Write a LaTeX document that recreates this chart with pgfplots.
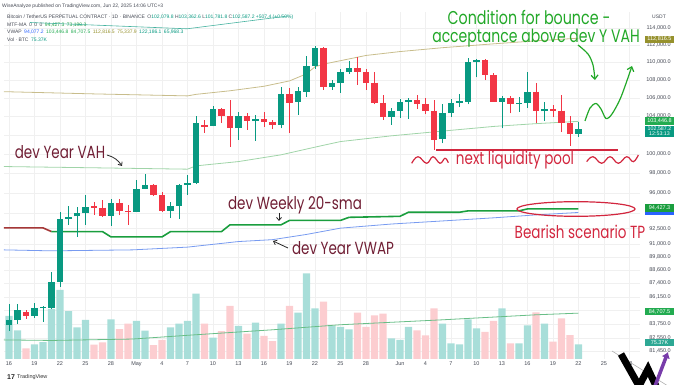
\documentclass[border=0pt]{standalone}
\usepackage{graphicx}
\usepackage{pgfplots}
\pgfplotsset{compat=1.18}
\usepackage{fontspec}
\setmainfont{Liberation Sans}
\newfontfamily\hand{Poppins}
\usetikzlibrary{arrows.meta}
\definecolor{cg}{RGB}{8,153,129}
\definecolor{cr}{RGB}{242,54,69}
\definecolor{vteal}{RGB}{168,222,217}
\definecolor{vpink}{RGB}{252,205,208}
\definecolor{tanline}{RGB}{200,189,140}
\definecolor{uline}{RGB}{160,212,168}
\definecolor{vwapc}{RGB}{120,155,240}
\definecolor{lline}{RGB}{105,190,135}
\definecolor{mtfg}{RGB}{26,158,62}
\definecolor{mtfr}{RGB}{165,55,55}
\definecolor{maroon}{RGB}{112,30,52}
\definecolor{crim}{RGB}{210,38,62}
\definecolor{hgreen}{RGB}{34,168,40}
\definecolor{olivebox}{RGB}{150,145,45}
\definecolor{gbox}{RGB}{34,171,80}
\definecolor{tvtext}{RGB}{70,74,85}
\definecolor{tvblue}{RGB}{41,98,255}
\definecolor{wpurple}{RGB}{120,60,170}
\newcommand{\hw}[1]{\scalebox{1}[1.3]{#1}}
\begin{document}
\begin{tikzpicture}
% ---------- grid and scales
\begin{axis}[at={(4pt,26pt)},anchor=south west,scale only axis,width=636pt,height=347pt,xmin=-0.588,xmax=74.24,
  ymode=log,ymin=80765,ymax=115950,
  axis line style={draw=none}, tick style={draw=none}, major tick length=0pt,
  grid=major, grid style={color=black!6, line width=0.5pt},
  xtick={0,3,6,9,12,15,18,21,24,27,30,33,36,39,42,46,49,52,55,58,61,64,67,70,73},
  xticklabels={16,19,22,25,28,May,4,7,10,13,16,19,22,25,28,Jun,4,7,10,13,16,19,22,25,28},
  xticklabel style={font=\fontsize{5.5}{6}\selectfont, text=tvtext, inner sep=0pt, yshift=-2.5pt},
  ytick={81450,82550,83750,84950,86150,87400,88600,89800,91000,92500,94000,96000,98000,100000,102000,104000,106000,108000,110000,112000,114000},
  yticklabels={{81,450.0},{82,550.0},{83,750.0},{},{86,150.0},{87,400.0},{88,600.0},{89,800.0},{91,000.0},{92,500.0},{},{96,000.0},{98,000.0},{100,000.0},{},{104,000.0},{106,000.0},{108,000.0},{110,000.0},{112,000.0},{114,000.0}},
  yticklabel pos=right,
  yticklabel style={font=\fontsize{5.5}{6}\selectfont, text=tvtext, anchor=east, inner sep=0pt, xshift=31pt},
]
\addplot[draw=none, forget plot] coordinates {(0,100000)};
\end{axis}
% ---------- volume
\begin{axis}[at={(4pt,26pt)},anchor=south west,scale only axis,width=636pt,height=347pt,xmin=-0.588,xmax=74.24,
  ymin=0, ymax=1780, hide axis]
\addplot[ybar, bar width=7.4pt, bar shift=0pt, fill=vteal, draw=none] coordinates {
(0,220.6) (1,147.2) (3,74.4) (4,86.2) (5,256.5) (6,354) (7,246) (8,162.6) (9,201) (12,203.7)
(15,195) (16,145.7) (19,162.6) (20,182) (21,195) (22,335) (24,109.3) (27,169.3) (29,186.2)
(32,181) (34,237.5) (35,439.6) (36,260) (38,169.3) (39,164.2) (40,152.4) (45,106.2) (46,97.5)
(47,164.2) (51,181) (52,80.5) (53,75.4) (54,203.7) (55,157.5) (58,260) (60,80.5) (61,172.9)
(63,181) (67,75.37)};
\addplot[ybar, bar width=7.4pt, bar shift=0pt, fill=vpink, draw=none] coordinates {
(2,54.9) (10,73.4) (11,85.7) (13,152.9) (14,181) (17,71.8) (18,97.5) (23,181) (25,143.6)
(26,271.9) (28,129.8) (30,118) (31,92.3) (33,271.9) (37,294) (41,237.5) (42,164.2) (43,224.2)
(44,232.4) (48,147.2) (49,121.6) (50,260) (56,138.5) (57,195) (59,80.5) (62,239.6) (64,88.7)
(65,208.8) (66,123.1)};
\end{axis}
% ---------- price
\begin{axis}[at={(4pt,26pt)},anchor=south west,scale only axis,width=636pt,height=347pt,xmin=-0.588,xmax=74.24,
  ymode=log,ymin=80765,ymax=115950, hide axis, unbounded coords=jump]
% VWAP bands
\addplot[tanline, line width=0.8pt] coordinates {(-0.6,106700) (10,106450) (21,106230) (22,106400) (26,106800) (30,107300) (33,107900) (35,108700) (36,109500) (37,109800) (39,110200) (42,110800) (46,111250) (51,111700) (57,112150) (62,112500) (67,112816.5)};
\addplot[uline, line width=0.8pt] coordinates {(-0.6,98690) (10,98560) (21,98420) (22,98760) (27,99200) (32,99900) (35,100500) (37,100900) (39,101290) (45,101900) (51,102400) (57,102900) (62,103200) (67,103446.8)};
\addplot[vwapc, line width=0.8pt] coordinates {(-0.6,90480) (5,90390) (14.5,90480) (21,90740) (27,91270) (31,91450) (35,91950) (39,92550) (45,92950) (51,93250) (57,93550) (62,93840) (67,94077.2)};
\addplot[lline, line width=0.8pt] coordinates {(-0.6,82380) (5,82330) (14.5,82450) (22,82820) (31,83250) (39,83690) (51,84120) (62,84560) (67,84707.5)};
% MTF-MA weekly 20 sma
\addplot[mtfr, line width=1.6pt] coordinates {(-0.6,92578) (4,92578) (5,92220)};
\addplot[mtfg, line width=1.6pt] coordinates {(5,92220) (11,92220) (12,91710) (18,91710) (19,92220) (25,92220) (26,92870) (32,92870) (33,93300) (39,93300) (40,93600) (46,93700) (47,94100) (53,94100) (54,94230) (60,94230) (61,94427.3) (67,94427.3)};
% green wicks
\addplot[cg, line width=0.9pt] coordinates {
(0,83150) (0,85500) (0,nan) (1,83750) (1,85500) (1,nan) (3,84300) (3,85650) (3,nan)
(4,83950) (4,85350) (4,nan) (5,85100) (5,88450) (5,nan) (6,87050) (6,94150) (6,nan)
(7,92900) (7,94700) (7,nan) (8,91750) (8,94600) (8,nan) (9,92870) (9,95800) (9,nan)
(12,92770) (12,95400) (12,nan) (15,94100) (15,97330) (15,nan) (16,96390) (16,97900) (16,nan)
(19,93520) (19,95150) (19,nan) (20,93420) (20,96900) (20,nan) (21,95820) (21,97830) (21,nan)
(22,96900) (22,104000) (22,nan) (24,102900) (24,105100) (24,nan) (27,101470) (27,104500) (27,nan)
(29,101400) (29,104150) (29,nan) (32,102700) (32,107250) (32,nan) (34,104150) (34,107270) (34,nan)
(35,106100) (35,110700) (35,nan) (36,109300) (36,111850) (36,nan) (38,106900) (38,108000) (38,nan)
(39,106600) (39,109300) (39,nan) (40,108700) (40,110200) (40,nan) (45,103100) (45,104900) (45,nan)
(46,103800) (46,105900) (46,nan) (47,103700) (47,106000) (47,nan) (51,101100) (51,105300) (51,nan)
(52,103900) (52,105900) (52,nan) (53,105000) (53,106400) (53,nan) (54,105300) (54,110500) (54,nan)
(55,108300) (55,110400) (55,nan) (58,102700) (58,106200) (58,nan) (60,104500) (60,106100) (60,nan)
(61,104900) (61,108900) (61,nan) (63,103500) (63,105550) (63,nan) (67,101782) (67,103362)};
% green bodies
\addplot[cg, line width=6.2pt] coordinates {
(0,83650) (0,84100) (0,nan) (1,84100) (1,84950) (1,nan) (3,84470) (3,85200) (3,nan)
(4,85150) (4,85250) (4,nan) (5,85200) (5,87520) (5,nan) (6,87500) (6,93450) (6,nan)
(7,93450) (7,93680) (7,nan) (8,93700) (8,94000) (8,nan) (9,94000) (9,94650) (9,nan)
(12,93750) (12,94990) (12,nan) (15,94150) (15,96420) (15,nan) (16,96420) (16,96850) (16,nan)
(19,94260) (19,94730) (19,nan) (20,94730) (20,96820) (20,nan) (21,96820) (21,96990) (21,nan)
(22,97000) (22,103250) (22,nan) (24,102960) (24,104770) (24,nan) (27,102714) (27,104040) (27,nan)
(29,103470) (29,103680) (29,nan) (32,103100) (32,106450) (32,nan) (34,105570) (34,106820) (34,nan)
(35,106710) (35,109600) (35,nan) (36,109600) (36,111650) (36,nan) (38,107200) (38,107650) (38,nan)
(39,107650) (39,108950) (39,nan) (40,108950) (40,109340) (40,nan) (45,103960) (45,104580) (45,nan)
(46,104580) (46,105530) (46,nan) (47,105600) (47,105790) (47,nan) (51,101545) (51,104330) (51,nan)
(52,104330) (52,105490) (52,nan) (53,105490) (53,105680) (53,nan) (54,105600) (54,110100) (54,nan)
(55,110100) (55,110280) (55,nan) (58,105600) (58,106000) (58,nan) (60,105350) (60,105500) (60,nan)
(61,105500) (61,106700) (61,nan) (63,104520) (63,104800) (63,nan) (67,102080) (67,102587)};
% red wicks
\addplot[cr, line width=0.9pt] coordinates {
(2,84200) (2,85000) (2,nan) (10,93850) (10,95150) (10,nan) (11,93650) (11,95300) (11,nan)
(13,93800) (13,95450) (13,nan) (14,92870) (14,94820) (14,nan) (17,95700) (17,96900) (17,nan)
(18,94160) (18,96150) (18,nan) (23,102250) (23,103600) (23,nan) (25,103300) (25,104900) (25,nan)
(26,100700) (26,105790) (26,nan) (28,102530) (28,104300) (28,nan) (30,102820) (30,104500) (30,nan)
(31,102600) (31,103600) (31,nan) (33,102180) (33,107090) (33,nan) (37,106900) (37,111800) (37,nan)
(41,107450) (41,110600) (41,nan) (42,106900) (42,109300) (42,nan) (43,105300) (43,108900) (43,nan)
(44,103600) (44,106300) (44,nan) (48,104770) (48,106340) (48,nan) (49,104200) (49,105950) (49,nan)
(50,100400) (50,105790) (50,nan) (56,108000) (56,110400) (56,nan) (57,105600) (57,108800) (57,nan)
(59,104300) (59,106200) (59,nan) (62,103300) (62,107700) (62,nan) (64,103900) (64,105200) (64,nan)
(65,102300) (65,106340) (65,nan) (66,100840) (66,104000)};
% red bodies
\addplot[cr, line width=6.2pt] coordinates {
(2,84800) (2,84470) (2,nan) (10,94700) (10,94550) (10,nan) (11,94550) (11,93750) (11,nan)
(13,94990) (13,94260) (13,nan) (14,94260) (14,94130) (14,nan) (17,96850) (17,95820) (17,nan)
(18,95820) (18,94260) (18,nan) (23,103070) (23,102820) (23,nan) (25,104770) (25,104040) (25,nan)
(26,104040) (26,102714) (26,nan) (28,104040) (28,103500) (28,nan) (30,103680) (30,103390) (30,nan)
(31,103390) (31,103100) (31,nan) (33,106450) (33,105490) (33,nan) (37,111650) (37,107200) (37,nan)
(41,109340) (41,108890) (41,nan) (42,108890) (42,107700) (42,nan) (43,107700) (43,105490) (43,nan)
(44,105490) (44,103960) (44,nan) (48,105790) (48,105350) (48,nan) (49,105330) (49,104610) (49,nan)
(50,104610) (50,101470) (50,nan) (56,110280) (56,108560) (56,nan) (57,108560) (57,105600) (57,nan)
(59,106000) (59,105350) (59,nan) (62,106700) (62,104520) (62,nan) (64,104800) (64,104620) (64,nan)
(65,104620) (65,103250) (65,nan) (66,103250) (66,102080)};
\end{axis}
% ---------- annotations (image pixel coordinates, y downwards)
\begin{scope}[x=1pt,y=-1pt,shift={(0pt,385pt)}]
\tikzset{hdr/.style={anchor=west, inner sep=0pt, font=\fontsize{5}{6}\selectfont, text=tvtext},
 lbl/.style={inner sep=0pt, minimum width=29pt, text=white, font=\fontsize{5.5}{6}\selectfont},
 hws/.style={inner sep=0pt, font=\hand\fontsize{13.5}{15}\selectfont}}
\node[hdr] at (2,6) {WiseAnalyze published on TradingView.com, Jun 22, 2025 14:06 UTC+3};
\node[hdr] at (7,17.3) {Bitcoin / TetherUS PERPETUAL CONTRACT · 1D · BINANCE\enspace O\textcolor{cg}{102,079.8} H\textcolor{cg}{103,362.6} L\textcolor{cg}{101,781.8} C\textcolor{cg}{102,587.2} \textcolor{cg}{+507.4 (+0.50\%)}};
\node[hdr] at (7,24.7) {MTF-MA\enspace 0\enspace 0\enspace 0\enspace \textcolor{mtfg}{94,427.3}\enspace \textcolor{mtfg}{73,190.3}};
\node[hdr] at (7,32.3) {VWAP\enspace \textcolor{tvblue}{94,077.2}\enspace \textcolor{gbox}{103,446.8}\enspace \textcolor{gbox}{84,707.5}\enspace \textcolor{olivebox}{112,816.5}\enspace \textcolor{olivebox}{75,337.9}\enspace \textcolor{cg}{122,186.1}\enspace \textcolor{cg}{65,968.3}};
\node[hdr] at (7,39.3) {Vol · BTC\enspace \textcolor{cg}{75.37K}};
\draw[cg!75, line width=0.6pt] (30,22.5) -- (187,28.8) -- (288,16);
% price scale labels
\node[inner sep=0pt, font=\fontsize{5}{6}\selectfont, text=tvtext] at (659,17) {USDT};
\node[lbl, fill=olivebox, minimum height=7.5pt] at (659.5,39.3) {112,816.5};
\node[lbl, fill=gbox, minimum height=7.5pt] at (659.5,121.2) {103,446.8};
\node[lbl, fill=cg, minimum height=10.8pt, align=center, font=\fontsize{5.3}{5.4}\selectfont] at (659.5,131.4) {102,587.2\\12:53:13};
\fill[tvblue] (645,211.5) rectangle (674,215);
\node[lbl, fill=mtfg, minimum height=7.5pt] at (659.5,208) {94,427.3};
\node[lbl, fill=gbox, minimum height=7.5pt] at (659.5,311.7) {84,707.5};
\node[lbl, fill=cg!85, minimum height=7.5pt] at (659.5,342.5) {75.37K};
% handwritten notes
\node[hws, text=hgreen, font=\hand\fontsize{14.3}{15}\selectfont] at (529,17) {\hw{Condition for bounce -}};
\node[hws, text=hgreen, font=\hand\fontsize{14}{15}\selectfont] at (536,38) {\hw{acceptance above dev Y VAH}};
\node[hws, text=maroon] at (60,152) {\hw{dev Year VAH}};
\node[hws, text=maroon] at (295,205) {\hw{dev Weekly 20-sma}};
\node[hws, text=maroon] at (343,248) {\hw{dev Year VWAP}};
\node[hws, text=crim] at (515,160) {\hw{next liquidity pool}};
\node[hws, text=crim] at (580,232) {\hw{Bearish scenario TP}};
% red drawings
\draw[crim, line width=1.3pt] (436,150) -- (618,150);
\draw[crim, line width=1.2pt] plot[smooth, tension=0.7] coordinates {(411.7,163.3) (418,156.7) (426.7,163.3) (433,156.7) (440,163.3) (445,158.3) (448.3,162.7)};
\draw[crim, line width=1.2pt] plot[smooth, tension=0.7] coordinates {(586.7,161.7) (593,156.7) (601.7,163.3) (610,156.7) (618.3,163.3) (626.7,156.7) (633.3,161.7) (638.3,155)};
\draw[crim, line width=1.2pt] (576,209) ellipse [x radius=59pt, y radius=7.3pt];
% green arrows
\draw[hgreen, line width=1.2pt, -{Straight Barb[length=4pt,width=7pt]}] plot[smooth] coordinates {(578,45) (588,54) (593,65) (595,80)};
\draw[hgreen, line width=1.2pt, -{Straight Barb[length=4pt,width=7pt]}] plot[smooth] coordinates {(585,121) (590,108) (596,103.5) (601,109) (606,118.5) (612,114) (621,97) (632,66)};
% black arrows
\draw[black!85, line width=0.8pt, -{Straight Barb[length=3pt,width=5pt]}] (107,155) .. controls (114,157) and (118,160) .. (122,166);
\draw[black!85, line width=0.8pt, -{Straight Barb[length=3pt,width=5pt]}] (279,213) -- (279,221);
\draw[black!85, line width=0.8pt, -{Straight Barb[length=3pt,width=5pt]}] (288,248) -- (273,241);
% logos
\node[anchor=west, inner sep=0pt, font=\bfseries\fontsize{7}{8}\selectfont, text=black!85] at (7,377) {17};
\node[anchor=west, inner sep=0pt, font=\fontsize{5.5}{6}\selectfont, text=black!80] at (17,377) {TradingView};
\draw[black!30, line width=0.6pt] (612,351) -- (668,386);
\draw[black, line width=7pt, line join=miter] (621,354) -- (639,386) -- (648,369) -- (656,386);
\draw[wpurple, line width=3.5pt, -{Latex[length=6pt,width=9pt]}] (655,386) -- (668,352);
\end{scope}
\pgfresetboundingbox
\useasboundingbox (0,0) rectangle (680pt,385pt);
\end{tikzpicture}
\end{document}
